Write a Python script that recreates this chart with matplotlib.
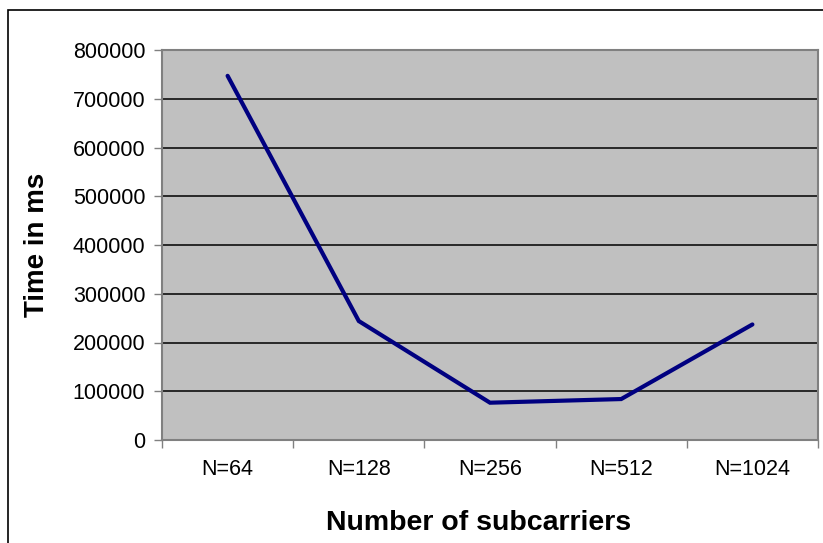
import matplotlib
matplotlib.use("Agg")
import matplotlib.pyplot as plt
from matplotlib.patches import Rectangle

plt.rcParams['font.family'] = ['Liberation Sans', 'DejaVu Sans']

# run time per FFT size
labels = ["N=64", "N=128", "N=256", "N=512", "N=1024"]
times_ms = [747000, 244000, 76500, 84000, 237000]
yticks = [0, 100000, 200000, 300000, 400000, 500000, 600000, 700000, 800000]

W, H = 823, 543
fig = plt.figure(figsize=(W / 100, H / 100), dpi=100)
fig.patch.set_facecolor("white")

# outer chart frame (runs off the right and bottom edges)
fig.add_artist(Rectangle((8 / W, -0.1), 1.2, 1 - 10 / H + 0.1,
                         transform=fig.transFigure, fill=False,
                         edgecolor="black", linewidth=1.2, clip_on=False))

ax = fig.add_axes([162 / W, (H - 440) / H, (818 - 162) / W, (440 - 50) / H])
ax.set_facecolor("#c0c0c0")

x = list(range(len(labels)))
ax.plot(x, times_ms, color="#000080", linewidth=3, solid_capstyle="round",
        solid_joinstyle="miter", zorder=3)

ax.set_xlim(-0.5, len(labels) - 0.5)
ax.set_ylim(0, 800000)
ax.set_yticks(yticks)
ax.set_yticklabels([str(v) for v in yticks], fontsize=15.5)
ax.yaxis.grid(True, color="black", linewidth=1.1)
ax.set_axisbelow(True)

# category ticks sit on the boundaries, labels in the middle
ax.set_xticks([i - 0.5 for i in range(len(labels) + 1)])
ax.set_xticklabels([])
ax.set_xticks(x, minor=True)
ax.set_xticklabels(labels, minor=True, fontsize=15.5)
ax.tick_params(axis="x", which="minor", length=0, pad=14)
ax.tick_params(axis="x", which="major", length=6, width=1, color="#808080")
ax.tick_params(axis="y", length=6, width=1, color="#808080", pad=6)

for s in ax.spines.values():
    s.set_color("#808080")
    s.set_linewidth(1.5)

ax.set_xlabel("Number of subcarriers", fontsize=20.5, fontweight="bold")
ax.xaxis.set_label_coords(0.483, -0.18)
ax.set_ylabel("Time in ms", fontsize=20, fontweight="bold", labelpad=16)

fig.savefig("out.png", dpi=100)
